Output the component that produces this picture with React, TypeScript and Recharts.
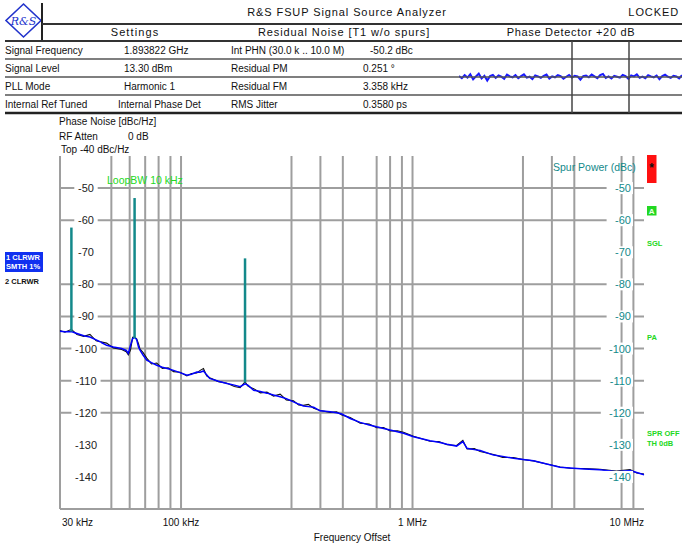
import React from 'react';
import {
  ComposedChart,
  LineChart,
  Line,
  XAxis,
  YAxis,
  CartesianGrid,
  ReferenceLine,
} from 'recharts';

const FONT = '"Liberation Sans", Arial, Helvetica, sans-serif';

// Offset frequency of each trace sample (Hz)
const FREQ_HZ = [
  30000, 31500, 33600, 35500, 38000, 40400, 43000, 45500, 47700, 51000,
  55400, 58000, 59200, 60500, 61800, 63000, 64300, 65500, 66500, 68500,
  71100, 74500, 78500, 83000, 88000, 92800, 99000, 106000, 111000, 117000,
  121000, 125000, 129000, 133000, 145000, 158000, 170000, 180000, 189000, 195000,
  206000, 220000, 235000, 251000, 268000, 285000, 306000, 322000, 338000, 355000,
  374000, 399000, 441000, 470000, 495000, 538000, 594000, 650000, 700000, 750000,
  800000, 860000, 914000, 1010000, 1190000, 1300000, 1410000, 1550000, 1650000, 1720000,
  1850000, 1960000, 2240000, 2450000, 2730000, 3000000, 3330000, 3800000, 4340000, 4800000,
  5500000, 6450000, 7600000, 8700000, 9300000, 10000000,
];

// Trace 1: CLRWR, smoothed 1 % (dBc/Hz)
const TRACE1_DBC = [
  -94.6, -94.8, -94.7, -95.3, -96.0, -96.4, -97.3, -98.2, -99.0, -99.5,
  -100.0, -100.6, -101.5, -99.0, -96.9, -96.5, -97.2, -99.5, -100.5, -102.0,
  -103.6, -104.4, -105.2, -105.8, -106.3, -106.8, -107.5, -108.3, -108.0, -107.3,
  -107.4, -107.0, -108.2, -109.3, -110.2, -110.9, -111.4, -111.9, -111.0, -111.5,
  -113.0, -113.4, -113.9, -114.5, -115.0, -115.6, -116.6, -117.3, -117.9, -118.1,
  -118.3, -119.4, -119.7, -120.0, -120.4, -121.8, -123.0, -123.8, -124.4, -124.9,
  -125.4, -125.9, -126.4, -127.5, -128.7, -129.2, -129.8, -130.4, -129.0, -131.1,
  -131.5, -131.8, -133.2, -133.6, -134.2, -134.6, -135.0, -136.0, -137.0, -137.2,
  -137.5, -137.8, -138.4, -138.0, -138.6, -139.3,
];

// Trace 2: CLRWR, unsmoothed (dBc/Hz)
const TRACE2_DBC = [
  -94.4, -94.9, -94.0, -95.6, -96.2, -95.6, -97.6, -98.0, -98.3, -99.8,
  -100.3, -101.0, -102.0, -100.5, -96.5, -96.4, -97.0, -98.5, -100.2, -101.2,
  -103.0, -104.8, -104.5, -106.2, -106.0, -107.2, -107.4, -108.5, -107.8, -107.6,
  -106.8, -106.2, -108.5, -109.1, -110.3, -110.8, -111.8, -112.2, -110.4, -111.8,
  -112.5, -113.8, -113.6, -114.8, -114.2, -116.0, -116.3, -117.6, -117.7, -117.4,
  -118.6, -119.3, -119.9, -119.7, -120.7, -121.5, -123.3, -123.5, -124.7, -124.6,
  -125.7, -125.6, -126.1, -127.3, -128.9, -129.0, -130.0, -130.2, -128.6, -131.3,
  -131.2, -132.1, -133.0, -133.9, -134.0, -134.6, -135.0, -136.0, -136.9, -137.3,
  -137.4, -137.6, -138.2, -137.7, -138.8, -139.1,
];

// Discrete spurs: offset (Hz), spur power (dBc), noise floor under the spur (dBc/Hz)
const SPUR_FREQ_HZ = [33600, 63000, 189000];
const SPUR_LEVEL_DBC = [-62.3, -53.1, -71.9];
const SPUR_FLOOR_DBC = [-94.7, -96.8, -110.6];

// Axis ranges and ticks
const TOP_LEVEL = -40;
const BOTTOM_LEVEL = -150;
const LEVEL_TICKS = [-50, -60, -70, -80, -90, -100, -110, -120, -130, -140];
const LEVEL_GRID = [-50, -60, -80, -90, -100, -110, -120];
const FREQ_TICKS = [30000, 100000, 1000000, 10000000];
const FREQ_TICK_LABELS = ['30 kHz', '100 kHz', '1 MHz', '10 MHz'];
const FREQ_GRID = [
  30000, 50000, 60000, 70000, 80000, 90000, 100000,
  300000, 400000, 500000, 700000, 800000, 900000, 1000000,
  3000000, 4000000, 5000000, 8000000, 9000000,
];

// Measurement summary table
const SETTING_NAMES = ['Signal Frequency', 'Signal Level', 'PLL Mode', 'Internal Ref Tuned'];
const SETTING_VALUES = ['1.893822 GHz', '13.30 dBm', 'Harmonic 1', 'Internal Phase Det'];
const NOISE_NAMES = ['Int PHN (30.0 k .. 10.0 M)', 'Residual PM', 'Residual FM', 'RMS Jitter'];
const NOISE_VALUES = ['-50.2 dBc', '0.251 °', '3.358 kHz', '0.3580 ps'];

// Phase detector monitor trace (relative deviation)
const DETECTOR_TRACE = [
  0.3, -0.4, 0.6, -0.2, 0.9, -0.8, 0.2, 1.1, -0.5, 0.4,
  -1.2, 0.3, 0.7, -0.3, 0.5, 0.1, -0.6, 0.8, 0.2, -0.1,
  0.6, -0.4, 0.3, 0.9, -0.2, 0.1, -0.7, 0.5, 0.2, -0.3,
  0.4, 0.8, -0.5, 0.2, -0.1, 0.6, 0.3, -0.6, 0.1, 0.7,
  -0.2, 0.4, 0.2, -0.9, 0.3, 0.5, -0.1, 0.8, 0.2, -0.4,
  0.6, 1.0, -0.3, 0.2, -0.5, 0.4, 0.1, -0.2, 0.7, 0.3,
  -0.6, 0.5, 0.2, 0.9, -0.3, 0.1, -0.4, 0.6, 0.2, -0.1,
  0.5, -0.7, 0.3, 0.8, 0.1, -0.3, 0.4, 0.2, -0.5, 0.6,
];

const traceData = FREQ_HZ.map((f, i) => ({ f, t1: TRACE1_DBC[i], t2: TRACE2_DBC[i] }));
const detectorData = DETECTOR_TRACE.map((v, i) => ({ i, v }));

const GRID = '#9e9e9e';
const TEAL = '#13898a';
const GREEN = '#22d822';

// Level scale is shared: phase noise (dBc/Hz) on the left, spur power (dBc) on the right
const LevelTick = (props: any) => {
  const { y, payload } = props;
  const label = String(payload.value);
  const w = label.length * 5.8 + 6;
  const leftCenter = 86;
  const rightEdge = 631;
  return (
    <g>
      <rect x={leftCenter - w / 2} y={y - 6} width={w} height={12} fill="#fff" />
      <text x={leftCenter} y={y + 4} textAnchor="middle" fontSize={11} fontFamily={FONT} fill="#222">
        {label}
      </text>
      <rect x={rightEdge - w - 1} y={y - 6} width={w + 3} height={12} fill="#fff" />
      <text x={rightEdge} y={y + 4} textAnchor="end" fontSize={11} fontFamily={FONT} fill={TEAL}>
        {label}
      </text>
    </g>
  );
};

const FreqTick = (props: any) => {
  const { x, payload } = props;
  const idx = FREQ_TICKS.indexOf(payload.value);
  if (idx < 0) return <g />;
  const anchor = idx === 0 ? 'start' : idx === FREQ_TICKS.length - 1 ? 'end' : 'middle';
  const dx = idx === 0 ? 2 : 0;
  return (
    <text x={x + dx} y={526} textAnchor={anchor} fontSize={10} fontFamily={FONT} fill="#111">
      {FREQ_TICK_LABELS[idx]}
    </text>
  );
};

const rowLines = [59, 77, 95];
const rowBase = [53.5, 71.5, 89.5, 107.5];

export default function App() {
  return (
    <div
      style={{
        position: 'absolute',
        left: 0,
        top: 0,
        width: 682,
        height: 545,
        background: '#fff',
        overflow: 'hidden',
        fontFamily: FONT,
      }}
    >
      <div style={{ position: 'absolute', left: 0, top: 0 }}>
        <ComposedChart
          width={682}
          height={545}
          data={traceData}
          margin={{ top: 156, right: 38, bottom: 0, left: 59 }}
        >
          <CartesianGrid
            stroke={GRID}
            strokeWidth={2}
            verticalValues={FREQ_GRID}
            horizontalValues={LEVEL_GRID}
          />
          <XAxis
            dataKey="f"
            type="number"
            scale="log"
            domain={[30000, 10000000]}
            ticks={FREQ_TICKS}
            tick={<FreqTick />}
            tickLine={false}
            axisLine={{ stroke: GRID, strokeWidth: 2 }}
            height={36}
            interval={0}
          />
          <YAxis
            type="number"
            domain={[BOTTOM_LEVEL, TOP_LEVEL]}
            ticks={LEVEL_TICKS}
            tick={<LevelTick />}
            tickLine={false}
            axisLine={false}
            width={1}
            interval={0}
          />
          <Line
            dataKey="t2"
            stroke="#111"
            strokeWidth={1.1}
            dot={false}
            isAnimationActive={false}
          />
          <Line
            dataKey="t1"
            stroke="#0000ff"
            strokeWidth={1.5}
            dot={false}
            isAnimationActive={false}
          />
          {SPUR_FREQ_HZ.map((f, i) => (
            <ReferenceLine
              key={f}
              segment={[
                { x: f, y: SPUR_FLOOR_DBC[i] },
                { x: f, y: SPUR_LEVEL_DBC[i] },
              ]}
              stroke={TEAL}
              strokeWidth={2.5}
            />
          ))}
        </ComposedChart>
      </div>

      {/* Phase detector monitor */}
      <div style={{ position: 'absolute', left: 459, top: 62 }}>
        <LineChart width={223} height={30} data={detectorData} margin={{ top: 0, right: 0, bottom: 0, left: 0 }}>
          <XAxis dataKey="i" hide />
          <YAxis hide domain={[-5, 5]} />
          <Line dataKey="v" stroke="#1a1aff" strokeWidth={2} dot={false} isAnimationActive={false} />
        </LineChart>
      </div>

      <svg
        width={682}
        height={545}
        style={{ position: 'absolute', left: 0, top: 0, pointerEvents: 'none' }}
        fontFamily={FONT}
      >
        {/* logo */}
        <polygon points="23.5,4 41,20.5 23.5,37 6,20.5" fill="none" stroke="#2233cc" strokeWidth={1.6} />
        <text x={23.5} y={24.5} textAnchor="middle" fontSize={11} fontStyle="italic" fill="#2233cc" fontFamily="'DejaVu Serif', serif">
          R&amp;S
        </text>

        {/* table frame */}
        <line x1={42} y1={3} x2={42} y2={41} stroke="#222" strokeWidth={2} />
        <line x1={42} y1={24} x2={682} y2={24} stroke="#333" strokeWidth={2} />
        <line x1={5} y1={41} x2={682} y2={41} stroke="#333" strokeWidth={2} />
        {rowLines.map((y) => (
          <line key={y} x1={5} y1={y} x2={682} y2={y} stroke="#555" strokeWidth={1.5} />
        ))}
        <line x1={5} y1={113} x2={682} y2={113} stroke="#222" strokeWidth={2.5} />
        <line x1={572} y1={41} x2={572} y2={113} stroke="#444" strokeWidth={1.5} />
        <line x1={629} y1={41} x2={629} y2={113} stroke="#444" strokeWidth={1.5} />

        <text x={347} y={16} textAnchor="middle" fontSize={11} letterSpacing={0.9} fill="#111">
          R&amp;S FSUP Signal Source Analyzer
        </text>
        <text x={679} y={16} textAnchor="end" fontSize={11} letterSpacing={0.9} fill="#111">
          LOCKED
        </text>
        <text x={135} y={36} textAnchor="middle" fontSize={11} letterSpacing={1.1} fill="#111">
          Settings
        </text>
        <text x={344} y={36} textAnchor="middle" fontSize={11} letterSpacing={0.9} fill="#111">
          Residual Noise [T1 w/o spurs]
        </text>
        <text x={571} y={36} textAnchor="middle" fontSize={11} letterSpacing={0.7} fill="#111">
          Phase Detector +20 dB
        </text>

        {SETTING_NAMES.map((t, i) => (
          <text key={t} x={5} y={rowBase[i]} fontSize={10} fill="#111">{t}</text>
        ))}
        {SETTING_VALUES.map((t, i) => (
          <text key={t} x={i === 3 ? 118 : 124} y={rowBase[i]} fontSize={10} fill="#111">{t}</text>
        ))}
        {NOISE_NAMES.map((t, i) => (
          <text key={t} x={231} y={rowBase[i]} fontSize={10} fill="#111">{t}</text>
        ))}
        {NOISE_VALUES.map((t, i) => (
          <text key={t} x={i === 0 ? 370 : 363} y={rowBase[i]} fontSize={10} fill="#111">{t}</text>
        ))}

        {/* trace info */}
        <text x={59} y={125} fontSize={10} fill="#111">Phase Noise [dBc/Hz]</text>
        <text x={59} y={139.5} fontSize={10} fill="#111">RF Atten</text>
        <text x={128} y={139.5} fontSize={10} fill="#111">0 dB</text>
        <text x={61} y={153} fontSize={10} fill="#111">Top -40 dBc/Hz</text>

        <text x={107} y={184} fontSize={10.5} fill={GREEN}>LoopBW 10 kHz</text>
        <text x={553} y={171} fontSize={10.5} fill={TEAL}>Spur Power (dBc)</text>

        {/* trace labels */}
        <rect x={5} y={252} width={38} height={20} fill="#1030f0" />
        <text x={6} y={260} fontSize={7.5} fontWeight="bold" fill="#fff">1 CLRWR</text>
        <text x={6} y={269} fontSize={7.5} fontWeight="bold" fill="#fff">SMTH 1%</text>
        <text x={5} y={284} fontSize={7.5} fontWeight="bold" fill="#111">2 CLRWR</text>

        {/* status markers */}
        <rect x={647} y={155} width={9.5} height={28} fill="#ff1010" />
        <text x={651.5} y={172} textAnchor="middle" fontSize={12} fontWeight="bold" fill="#111">*</text>
        <rect x={647} y={206} width={9.5} height={9.5} fill={GREEN} />
        <text x={651.7} y={214} textAnchor="middle" fontSize={8} fontWeight="bold" fill="#e8ffe8">A</text>
        <text x={647} y={246} fontSize={7.5} fontWeight="bold" fill={GREEN}>SGL</text>
        <text x={647} y={339.5} fontSize={7.5} fontWeight="bold" fill={GREEN}>PA</text>
        <text x={647} y={436} fontSize={7.5} fontWeight="bold" fill={GREEN}>SPR OFF</text>
        <text x={647} y={446} fontSize={7.5} fontWeight="bold" fill={GREEN}>TH 0dB</text>

        <text x={352} y={541} textAnchor="middle" fontSize={10} fill="#111">Frequency Offset</text>
      </svg>
    </div>
  );
}
